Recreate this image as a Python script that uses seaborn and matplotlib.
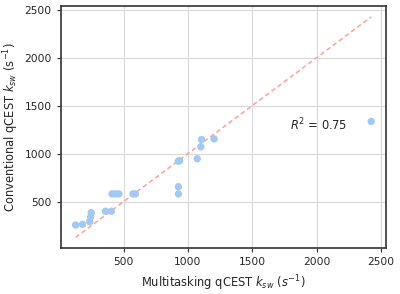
import numpy as np
import pandas as pd
import matplotlib
matplotlib.use("Agg")
import matplotlib.pyplot as plt
import seaborn as sns

# values
multi_ksw = [127, 181, 237, 244, 248, 359, 405, 410, 436, 464, 573, 592,
             926, 926, 925, 935, 1072, 1100, 1106, 1203, 2424]
conv_ksw = [256, 263, 290, 340, 385, 400, 400, 580, 580, 580, 580, 580,
            580, 655, 920, 926, 947, 1070, 1146, 1153, 1335]
r2_label = "$R^2$ = 0.75"

df = pd.DataFrame({"multi": multi_ksw, "conv": conv_ksw})

sns.set_style("ticks", {"axes.grid": True, "grid.color": ".85",
                        "axes.edgecolor": ".2"})
plt.rcParams["font.family"] = ["DejaVu Sans"]
plt.rcParams["font.size"] = 7.5

pal = sns.color_palette("pastel")

fig, ax = plt.subplots(figsize=(4, 2.94), dpi=100)
sns.scatterplot(data=df, x="multi", y="conv", color=pal[0], s=28,
                edgecolor="none", ax=ax, zorder=3)

lo, hi = min(multi_ksw), max(multi_ksw)
ax.plot([lo, hi], [lo, hi], ls=(0, (3, 2)), color=pal[3], lw=1.1, zorder=2)

ax.text(1790, 1300, r2_label, fontsize=8.3, va="center", color=".15")

ax.set_xticks([500, 1000, 1500, 2000, 2500])
ax.set_yticks([500, 1000, 1500, 2000, 2500])
ax.tick_params(labelsize=7.7, length=3, color=".2", labelcolor=".15")
ax.set_xlabel(r"Multitasking qCEST $k_{sw}$ ($s^{-1}$)", fontsize=8.3, color=".15")
ax.set_ylabel(r"Conventional qCEST $k_{sw}$ ($\mathrm{s}^{-1}$)", fontsize=8.3,
              color=".15", labelpad=2.5)
for s in ax.spines.values():
    s.set_linewidth(1.2)

fig.subplots_adjust(left=0.152, right=0.965, bottom=0.155, top=0.98)
fig.savefig("out.png", dpi=100)
